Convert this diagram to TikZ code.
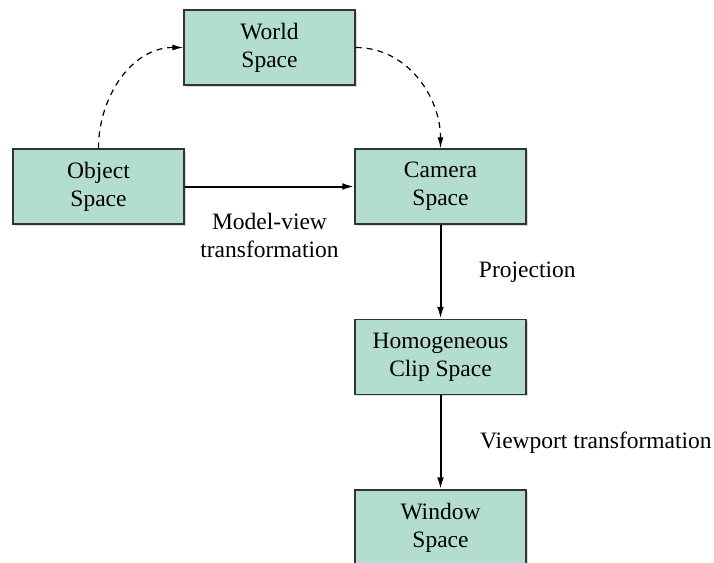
\documentclass[tikz,border=0pt]{standalone}
\usepackage{fontspec}
\setmainfont{Liberation Serif}
\usepackage{xcolor}
\usetikzlibrary{arrows.meta,positioning,shadows}
\definecolor{spacegreen}{HTML}{B3DDD0}
\tikzstyle{block} = [rectangle, draw=black!80, fill=spacegreen, line width=0.7pt, text centered, align=center, inner sep=0pt, minimum height=37.5pt, minimum width=85.5pt, drop shadow={shadow xshift=0.8pt, shadow yshift=-0.8pt, opacity=0.3}]
\tikzstyle{line} = [draw, line width=1pt, -{Latex[length=6pt,width=3.4pt]}]
\tikzstyle{dashline} = [draw, line width=0.6pt, dash pattern=on 3pt off 2.5pt, -{Latex[length=5.5pt,width=3pt]}]

\begin{document}
\begin{tikzpicture}[node distance = 85.25pt, auto, font=\fontsize{11.75}{14}\selectfont]
\useasboundingbox (0,0) rectangle (357pt,-281.5pt);
\node [block] (object) at (49.25pt,-93.25pt) {Object\\Space};
\node [block, right of=object, node distance=171pt] (camera) {Camera\\Space};
\node [block, above of=object, node distance=69.5pt, xshift=85.5pt] (world) {World\\Space};
\node [block, below of=camera] (clip) {Homogeneous\\Clip Space};
\node [block, below of=clip] (window) {Window\\Space};
\path [line] (object) -- node [below=9.5pt, align=center] {Model-view\\transformation} (camera);
\path [dashline] (object.north) to [out=90, in=180] (world.west);
\path [dashline] (world.east) to [out=0, in=90] (camera.north);
\path [line] (camera) -- node [right=15.4pt] {Projection} (clip);
\path [line] (clip) -- node [right=16pt] {Viewport transformation} (window);
\end{tikzpicture}
\end{document}
